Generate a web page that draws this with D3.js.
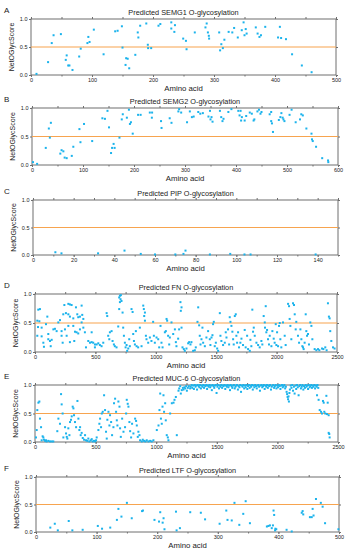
<!DOCTYPE html>
<html>
<head>
<meta charset="utf-8">
<script src="https://cdn.jsdelivr.net/npm/d3@7/dist/d3.min.js"></script>
<style>
  body { margin: 0; background: #fff; }
  text { font-family: "Liberation Sans", Arial, sans-serif; fill: #222; }
</style>
</head>
<body>
<div id="chart"></div>
<script>
// Panel text
const panelLetters = ["A", "B", "C", "D", "E", "F"];
const proteins = ["SEMG1", "SEMG2", "PIP", "FN", "MUC-6", "LTF"];
const xMaxes = [500, 600, 150, 2500, 2500, 500];
const xTickSteps = [100, 100, 20, 500, 500, 100];
const yTicks = [0, 0.5, 1.0];
const threshold = 0.5;

// [amino acid position, NetOGlyc score]
const semg1 = [[9,0.02],[28,0.23],[34,0.57],[37,0.71],[49,0.73],[57,0.27],[58.5,0.35],[61,0.17],[63,0.17],[68,0.09],
  [79,0.33],[81.5,0.47],[92.5,0.57],[94,0.68],[96,0.59],[103,0.81],[119,0.37],[138,0.78],[142,0.79],[149,0.87],
  [150,0.49],[155,0.18],[156,0.30],[158.5,0.29],[161,0.12],[171,0.36],[175,0.76],[176,0.67],[179,0.88],[189,0.92],
  [191.5,0.54],[192,0.48],[197,0.48],[209,0.88],[212,0.91],[230,0.94],[230,0.83],[236,0.89],[235,0.77],[249.5,0.65],
  [254,0.61],[255,0.46],[268.5,0.76],[286,0.85],[288,0.92],[290,0.76],[291.5,0.70],[292,0.65],[308.5,0.76],[312,0.55],
  [310,0.44],[314.5,0.48],[317,0.63],[324,0.77],[330,0.76],[333,0.84],[339,0.67],[345.5,0.80],[348.5,0.94],[350,0.71],
  [352,0.82],[353.5,0.74],[368.5,0.85],[371.5,0.74],[374.5,0.68],[377,0.71],[384,0.86],[405,0.67],[408,0.86],[410,0.66],
  [418,0.64],[428,0.37],[444,0.17],[460,0.05]];

const semg2 = [[2,0.05],[10,0.02],[27,0.30],[33,0.64],[35,0.48],[37,0.74],[55.5,0.20],[58,0.26],[61.5,0.24],[64,0.13],
  [68,0.12],[78,0.16],[81,0.32],[93,0.63],[95,0.40],[102,0.72],[118,0.42],[138,0.82],[143,0.81],[148,0.95],
  [151,0.66],[155,0.21],[157,0.30],[160,0.37],[162,0.30],[171.5,0.48],[176,0.80],[178,0.89],[186,0.83],[190,0.97],
  [192,0.72],[194,0.75],[197.5,0.55],[208,0.88],[213,0.88],[231,0.92],[235.5,0.92],[235,0.83],[253,0.77],[254,0.65],
  [270,0.82],[273.5,0.74],[287,0.94],[288.5,0.98],[292.5,0.92],[304,0.75],[309.5,0.94],[313.5,0.84],[317,0.85],[326,0.93],
  [330,0.90],[335,0.91],[346,0.85],[349,0.95],[350,0.80],[352,0.84],[354,0.76],[368.5,0.95],[371,0.84],[373.5,0.77],
  [375.5,0.81],[385,0.93],[391,0.98],[404.5,0.95],[407,0.87],[410,0.78],[409,0.95],[411.5,0.84],[417,0.78],[420,0.86],
  [427,0.92],[431,0.90],[434.5,0.78],[436,0.80],[442,0.94],[445,0.97],[448,0.90],[450,0.93],[466,0.89],[469,0.93],
  [470.5,0.73],[469,0.77],[472.5,0.58],[484,0.79],[487,0.84],[489,0.91],[491.5,0.83],[493,0.80],[495,0.77],[505,0.88],
  [509,0.97],[517,0.75],[525.5,0.80],[528,0.89],[531,0.87],[538,0.64],[548,0.55],[549,0.45],[550.5,0.42],[557,0.32],
  [569,0.12],[580.5,0.08],[581,0.05]];

const pip = [[11,0.05],[14,0.03],[32,0.03],[45,0.08],[53,0.02],[60,0.01],[70,0.01],[74,0.02],[75,0.08],[87,0.01],
  [97,0.02],[104,0.01],[107,0.01],[139,0.01]];

const fn = [[27,0.73],[41,0.74],[19,0.54],[36,0.53],[25,0.43],[55,0.42],[19,0.28],[55,0.27],[69,0.16],[110,0.22],
  [124,0.19],[138,0.21],[152,0.39],[165,0.40],[179,0.36],[102,0.61],[110,0.31],[91,0.48],[74,0.09],[130,0.10],
  [193,0.51],[207,0.55],[220,0.36],[220,0.28],[229,0.16],[234,0.65],[243,0.81],[256,0.67],[276,0.83],[289,0.82],
  [303,0.81],[276,0.65],[289,0.61],[317,0.58],[339,0.77],[350,0.65],[358,0.60],[372,0.61],[386,0.80],[391,0.64],
  [400,0.57],[317,0.45],[331,0.35],[344,0.34],[358,0.32],[372,0.39],[386,0.51],[400,0.42],[413,0.34],[325,0.19],
  [248,0.39],[262,0.28],[276,0.45],[289,0.17],[422,0.08],[441,0.19],[455,0.16],[469,0.17],[482,0.16],[496,0.13],
  [510,0.13],[524,0.15],[469,0.34],[496,0.08],[537,0.12],[551,0.10],[565,0.16],[593,0.67],[598,0.62],[606,0.28],
  [615,0.22],[620,0.34],[634,0.36],[642,0.19],[653,0.13],[661,0.10],[675,0.08],[689,0.44],[697,0.94],[703,0.97],
  [708,0.91],[716,0.88],[703,0.86],[711,0.98],[697,0.74],[725,0.68],[730,0.42],[736,0.28],[744,0.16],[750,0.08],
  [758,0.12],[763,0.02],[772,0.06],[780,0.22],[785,0.10],[799,0.74],[808,0.69],[813,0.31],[819,0.19],[827,0.13],
  [835,0.36],[841,0.10],[854,0.08],[868,0.42],[882,0.10],[896,0.80],[901,0.74],[910,0.68],[904,0.62],[910,0.54],
  [918,0.28],[923,0.22],[937,0.16],[951,0.25],[964,0.19],[978,0.52],[984,0.28],[992,0.16],[1006,0.25],[1020,0.22],
  [1028,0.08],[1039,0.45],[1047,0.16],[1056,0.08],[1075,0.34],[1083,0.36],[1089,0.57],[1094,0.54],[1102,0.28],[1111,0.13],
  [1116,0.25],[1130,0.51],[1144,0.31],[1158,0.39],[1166,0.17],[1171,0.10],[1185,0.23],[1193,0.39],[1204,0.86],[1213,0.77],
  [1207,0.71],[1213,0.42],[1221,0.08],[1232,0.05],[1240,0.02],[1254,0.06],[1268,0.15],[1276,0.17],[1287,0.13],[1295,0.17],
  [1309,0.02],[1323,0.03],[1331,0.08],[1345,0.52],[1351,0.77],[1359,0.46],[1364,0.28],[1370,0.13],[1378,0.22],[1386,0.42],
  [1392,0.16],[1406,0.10],[1419,0.25],[1433,0.36],[1447,0.22],[1452,0.12],[1461,0.25],[1469,0.29],[1474,0.48],[1480,0.52],
  [1488,0.10],[1497,0.16],[1508,0.06],[1516,0.02],[1530,0.67],[1535,0.28],[1543,0.19],[1557,0.12],[1571,0.16],[1579,0.34],
  [1585,0.25],[1598,0.39],[1607,0.13],[1612,0.60],[1618,0.52],[1626,0.45],[1634,0.35],[1640,0.22],[1645,0.13],[1654,0.62],
  [1662,0.65],[1667,0.28],[1673,0.16],[1681,0.34],[1689,0.08],[1700,0.16],[1709,0.23],[1722,0.12],[1736,0.38],[1744,0.08],
  [1756,0.28],[1764,0.05],[1778,0.02],[1783,0.21],[1791,0.10],[1799,0.73],[1805,0.35],[1811,0.42],[1819,0.28],[1833,0.16],
  [1847,0.12],[1860,0.08],[1874,0.19],[1882,0.13],[1893,0.62],[1902,0.51],[1904,0.42],[1910,0.79],[1915,0.34],[1921,0.38],
  [1929,0.22],[1937,0.13],[1943,0.28],[1957,0.10],[1965,0.36],[1976,0.23],[1984,0.16],[1993,0.48],[1998,0.12],[2004,0.34],
  [2012,0.10],[2020,0.45],[2026,0.50],[2031,0.22],[2039,0.08],[2053,0.51],[2067,0.28],[2075,0.12],[2095,0.83],[2103,0.79],
  [2108,0.57],[2114,0.45],[2122,0.22],[2136,0.84],[2144,0.81],[2150,0.65],[2158,0.39],[2163,0.52],[2177,0.28],[2186,0.16],
  [2197,0.39],[2205,0.22],[2213,0.10],[2219,0.08],[2224,0.05],[2232,0.16],[2241,0.65],[2246,0.36],[2252,0.28],[2260,0.31],
  [2268,0.13],[2279,0.51],[2288,0.45],[2296,0.22],[2315,0.05],[2329,0.03],[2343,0.05],[2354,0.03],[2376,0.06],[2387,0.05],
  [2403,0.08],[2414,0.03],[2425,0.84],[2433,0.61],[2439,0.58],[2444,0.36],[2453,0.19],[2467,0.08],[2480,0.06]];

const muc6 = [[8,0.08],[14,0.21],[19,0.56],[28,0.69],[36,0.71],[41,0.41],[50,0.26],[55,0.03],[63,0.10],[69,0.08],
  [74,0.04],[83,0.02],[91,0.03],[96,0.01],[110,0.02],[124,0.01],[138,0.01],[151,0.01],[184,0.19],[193,0.41],
  [206,0.32],[215,0.84],[220,0.66],[228,0.50],[234,0.08],[248,0.26],[256,0.15],[262,0.09],[267,0.06],[275,0.24],
  [284,0.12],[289,0.35],[297,0.39],[303,0.45],[311,0.62],[317,0.59],[322,0.47],[330,0.35],[339,0.26],[350,0.72],
  [358,0.41],[366,0.21],[372,0.26],[377,0.12],[385,0.16],[394,0.07],[405,0.04],[413,0.12],[421,0.03],[432,0.02],
  [440,0.06],[449,0.01],[460,0.03],[468,0.05],[476,0.01],[487,0.02],[496,0.01],[504,0.03],[509,0.08],[523,0.21],
  [531,0.32],[537,0.41],[545,0.26],[551,0.50],[559,0.53],[570,0.82],[578,0.56],[586,0.18],[592,0.06],[597,0.39],
  [606,0.53],[614,0.29],[619,0.47],[628,0.35],[636,0.12],[647,0.26],[652,0.68],[661,0.76],[669,0.53],[675,0.38],
  [680,0.29],[688,0.71],[697,0.62],[702,0.24],[708,0.09],[719,0.41],[730,0.18],[743,0.26],[752,0.50],[757,0.74],
  [765,0.67],[771,0.62],[779,0.35],[785,0.19],[793,0.08],[801,0.32],[812,0.15],[826,0.41],[834,0.37],[840,0.29],
  [848,0.09],[853,0.18],[862,0.12],[867,0.03],[881,0.01],[889,0.04],[900,0.02],[911,0.01],[922,0.03],[936,0.01],
  [950,0.02],[963,0.01],[977,0.03],[1005,0.21],[1019,0.29],[1027,0.56],[1033,0.85],[1039,0.41],[1046,0.32],[1052,0.62],
  [1060,0.82],[1065,0.53],[1074,0.68],[1079,0.38],[1087,0.12],[1096,0.08],[1101,0.03],[1115,0.50],[1129,0.68],[1143,0.69],
  [1151,0.74],[1162,0.79],[1170,0.12],[1184,0.90],[1190,0.94],[1198,0.98],[1203,0.85],[1211,0.91],[1220,0.95],[1225,0.92],
  [1233,0.96],[1239,0.94],[1247,0.98],[1253,0.90],[1261,0.95],[1269,0.98],[1280,0.94],
  [1285,0.97],[1292,1.0],[1298,0.95],[1305,0.99],[1311,0.93],[1318,1.0],[1324,0.97],[1330,0.99],[1337,0.92],[1343,1.0],
  [1350,0.98],[1356,0.96],[1362,1.0],[1369,0.94],[1375,0.99],[1382,0.97],[1388,1.0],[1395,0.95],[1401,0.99],[1408,0.98],
  [1414,1.0],[1420,0.93],[1427,0.99],[1433,0.97],[1440,1.0],[1446,0.96],[1453,0.99],[1459,0.91],[1466,1.0],[1472,0.98],
  [1479,0.95],[1485,0.99],[1492,1.0],[1498,0.86],[1505,0.97],[1511,1.0],[1518,0.94],[1524,0.99],[1531,0.97],[1537,1.0],
  [1544,0.95],[1550,0.99],[1557,0.98],[1563,1.0],[1570,0.93],[1576,0.99],[1583,0.97],[1589,1.0],[1596,0.96],[1602,0.99],
  [1609,0.91],[1615,1.0],[1622,0.98],[1628,0.95],[1635,0.99],[1641,1.0],[1648,0.94],[1654,0.97],[1661,0.99],[1667,1.0],
  [1674,0.92],[1680,0.98],[1687,0.96],[1693,1.0],[1700,0.88],[1706,0.99],[1713,0.97],[1719,1.0],[1726,0.94],[1732,0.99],
  [1739,0.96],[1745,1.0],[1752,0.93],[1758,0.98],[1765,1.0],[1771,0.95],[1778,0.99],[1784,0.97],[1791,1.0],[1797,0.92],
  [1804,0.99],[1810,0.96],[1817,1.0],[1823,0.98],[1830,0.94],[1836,0.99],[1843,1.0],[1849,0.97],[1856,0.90],[1862,0.99],
  [1869,1.0],[1875,0.96],[1882,0.98],[1888,1.0],[1895,0.93],[1901,0.99],[1908,0.97],[1914,1.0],[1921,0.95],[1927,0.99],
  [1934,0.98],[1940,1.0],[1947,0.92],[1953,0.97],[1960,0.99],[1966,1.0],[1973,0.95],[1979,0.98],[1986,1.0],[1992,0.94],
  [1999,0.99],[2005,0.96],[2012,1.0],[2018,0.98],[2025,0.93],[2031,0.99],[2038,1.0],[2044,0.96],[2051,0.98],[2057,1.0],
  [2064,0.94],[2070,0.97],[2076,0.88],[2080,0.84],[2084,0.79],[2088,0.75],[2092,0.80],[2095,0.71],[2099,0.86],[2103,0.92],
  [2110,0.99],[2116,0.95],[2123,1.0],[2129,0.90],[2136,0.97],[2142,0.85],[2149,0.99],[2155,0.93],[2162,1.0],[2168,0.96],
  [2175,0.82],[2181,0.98],[2188,1.0],[2194,0.94],[2201,0.97],[2207,1.0],[2214,0.92],[2220,0.98],[2227,0.95],[2233,1.0],
  [2240,0.97],[2246,0.99],[2253,0.93],[2259,1.0],[2266,0.96],[2272,0.98],[2279,1.0],[2285,0.95],[2292,0.99],[2298,0.97],
  [2305,1.0],[2311,0.94],[2318,0.99],[2324,0.97],[2331,1.0],[2337,0.95],
  [2327,0.82],[2340,0.74],[2349,0.56],[2360,0.53],[2368,0.50],[2376,0.72],[2382,0.69],[2387,0.53],[2395,0.50],[2404,0.81],
  [2409,0.49],[2415,0.69],[2423,0.47],[2423,0.16],[2428,0.14],[2431,0.08]];

const ltf = [[23.6,0.08],[31,0.15],[36,0.03],[54,0.20],[60,0.03],[77,0.04],[102,0.11],[109,0.06],[122.5,0.08],[133.5,0.22],
  [136,0.42],[141,0.28],[150,0.53],[158,0.25],[175,0.38],[176.5,0.39],[195.5,0.22],[203,0.19],[205,0.36],[209,0.17],
  [210.5,0.25],[212,0.05],[231,0.37],[232,0.03],[237.5,0.07],[254.5,0.36],[272,0.35],[279,0.23],[303,0.15],[314,0.39],
  [316,0.22],[323,0.21],[327.5,0.53],[335.5,0.13],[342,0.33],[346,0.56],[353,0.16],[381,0.10],[383.5,0.11],[386,0.12],
  [389,0.07],[391,0.12],[392,0.39],[393,0.31],[394.5,0.03],[395,0.06],[396.5,0.05],[413.5,0.04],[422,0.01],[438.5,0.35],
  [440,0.38],[441,0.32],[452,0.27],[455,0.27],[456.5,0.42],[458,0.30],[462,0.60],[470,0.53],[473,0.46],[477,0.16],
  [499,0.05]];

const series = [semg1, semg2, pip, fn, muc6, ltf];

// plot box of each panel in page pixels
const layout = [
  { left: 31, right: 336, top: 19, bottom: 75 },
  { left: 32, right: 338, top: 108, bottom: 165 },
  { left: 33, right: 338, top: 200, bottom: 255 },
  { left: 35, right: 337, top: 294, bottom: 352 },
  { left: 35, right: 338, top: 385, bottom: 442 },
  { left: 36, right: 339, top: 477, bottom: 532 }
];

const frameColor = "#6f6f6f";
const dotColor = "#1bb3ec";
const lineColor = "#f7a44f";

const svg = d3.select("#chart").append("svg")
  .attr("width", 356)
  .attr("height", 550);

function drawPanel(i) {
  const box = layout[i];
  const g = svg.append("g");

  const x = d3.scaleLinear().domain([0, xMaxes[i]]).range([box.left, box.right]);
  const y = d3.scaleLinear().domain([0, 1]).range([box.bottom, box.top]);

  const major = d3.range(0, xMaxes[i] + 1, xTickSteps[i]);
  const minor = d3.range(0, xMaxes[i] + 1, xTickSteps[i] / 2);

  // bottom axis with labels
  const bottomAxis = d3.axisBottom(x).tickValues(major).tickSize(2).tickPadding(1.5).tickFormat(d3.format("d"));
  const gb = g.append("g").attr("transform", `translate(0,${box.bottom})`).call(bottomAxis);
  gb.append("g").call(d3.axisBottom(x).tickValues(minor).tickSize(1.5).tickFormat(""));

  const topAxis = d3.axisTop(x).tickValues(minor).tickSize(2).tickFormat("");
  g.append("g").attr("transform", `translate(0,${box.top})`).call(topAxis);

  const leftAxis = d3.axisLeft(y).tickValues(yTicks).tickSize(2).tickPadding(1.5).tickFormat(d3.format(".1f"));
  g.append("g").attr("transform", `translate(${box.left},0)`).call(leftAxis);
  g.append("g").attr("transform", `translate(${box.right},0)`)
    .call(d3.axisRight(y).tickValues(yTicks).tickSize(2).tickFormat(""));

  g.selectAll(".domain").remove();
  g.selectAll(".tick line").attr("stroke", frameColor);
  g.selectAll(".tick text").attr("font-size", 5.5).attr("fill", "#333");

  g.append("rect")
    .attr("x", box.left)
    .attr("y", box.top)
    .attr("width", box.right - box.left)
    .attr("height", box.bottom - box.top)
    .attr("fill", "none")
    .attr("stroke", frameColor)
    .attr("stroke-width", 1);

  // threshold line
  g.append("line")
    .attr("x1", x(0)).attr("x2", x(xMaxes[i]))
    .attr("y1", y(threshold)).attr("y2", y(threshold))
    .attr("stroke", lineColor)
    .attr("stroke-width", 1.2);

  g.append("g").selectAll("rect")
    .data(series[i])
    .enter()
    .append("rect")
    .attr("x", d => x(d[0]) - 1)
    .attr("y", d => y(d[1]) - 1)
    .attr("width", 2)
    .attr("height", 2)
    .attr("fill", dotColor);

  g.append("text")
    .attr("x", 4)
    .attr("y", box.top - 6)
    .attr("font-size", 8)
    .text(panelLetters[i]);

  g.append("text")
    .attr("x", (box.left + box.right) / 2)
    .attr("y", box.top - 4)
    .attr("text-anchor", "middle")
    .attr("font-size", 7.3)
    .text(`Predicted ${proteins[i]} O-glycosylation`);

  g.append("text")
    .attr("x", (box.left + box.right) / 2)
    .attr("y", box.bottom + 16)
    .attr("text-anchor", "middle")
    .attr("font-size", 7.8)
    .text("Amino acid");

  g.append("text")
    .attr("transform", `translate(${box.left - 17},${(box.top + box.bottom) / 2}) rotate(-90)`)
    .attr("text-anchor", "middle")
    .attr("font-size", 7)
    .text("NetOGlycScore");
}

series.forEach((s, i) => drawPanel(i));
</script>
</body>
</html>
